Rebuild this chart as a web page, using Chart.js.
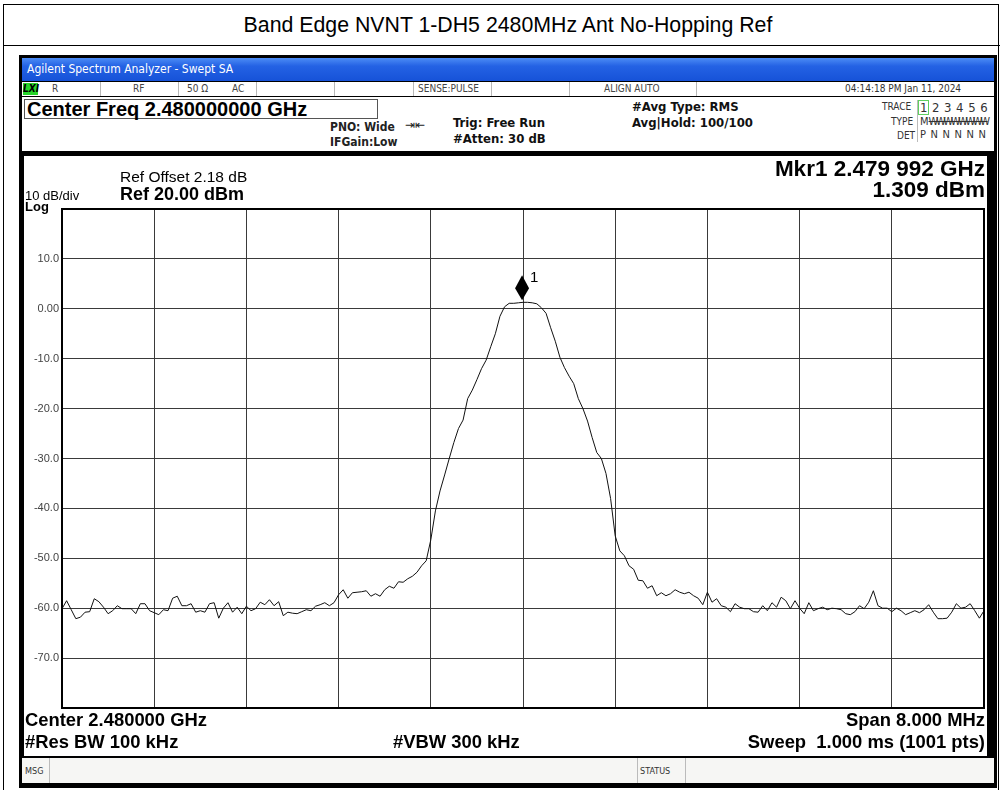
<!DOCTYPE html>
<html>
<head>
<meta charset="utf-8">
<script src="https://cdn.jsdelivr.net/npm/chart.js@4"></script>
<style>
  html, body { margin: 0; padding: 0; background: #fff; }
  body { width: 1002px; height: 790px; position: relative; overflow: hidden; font-family: "Liberation Sans", Arial, sans-serif; }
  .abs { position: absolute; white-space: nowrap; }
  .narrow { font-family: "Liberation Sans Narrow", "DejaVu Sans Condensed", "Liberation Sans", sans-serif; }
  #page { left: 3px; top: 4px; width: 996px; height: 800px; border: 1px solid #000; box-sizing: border-box; }
  #titleLine { left: 3px; top: 45px; width: 997px; height: 1px; background: #000; }
  #title { left: 0; top: 13px; width: 1016px; text-align: center; font-size: 21.3px; color: #000; }
  #sa { left: 19px; top: 55px; width: 978px; height: 733px; background: #000; }
  #bar { left: 22px; top: 58px; width: 972px; height: 23px; background: linear-gradient(#4c8cf5 0%, #2462e4 35%, #1652d8 100%); color: #fff; font-size: 12px; line-height: 23px; padding-left: 5px; box-sizing: border-box; }
  #row2 { left: 22px; top: 82px; width: 972px; height: 14px; background: #fff; font-size: 10px; color: #444; line-height: 14px; }
  .sep { position: absolute; top: 0; width: 1px; height: 14px; background: #b8b8b8; }
  #info { left: 22px; top: 97px; width: 972px; height: 54px; background: #fff; }
  #plotPanel { left: 24px; top: 156px; width: 963px; height: 600px; background: #fff; }
  #msg { left: 22px; top: 758px; width: 972px; height: 25px; background: #f6f6f4; font-size: 9px; color: #333; }
  canvas { position: absolute; left: 24px; top: 156px; }
  .bold { font-weight: bold; }
</style>
</head>
<body>
<div id="page" class="abs"></div>
<div id="titleLine" class="abs"></div>
<div id="title" class="abs">Band Edge NVNT 1-DH5 2480MHz Ant No-Hopping Ref</div>

<div id="sa" class="abs"></div>
<div id="bar" class="abs narrow">Agilent Spectrum Analyzer - Swept SA</div>
<div id="row2" class="abs narrow">
  <span class="abs" style="left:1px;top:1px;width:15px;height:12px;background:#27d42a;color:#000;font-weight:bold;font-style:italic;font-size:10px;line-height:12px;text-align:center;">LXI</span>
  <span class="abs" style="left:30px;">R</span>
  <div class="sep" style="left:78px"></div>
  <span class="abs" style="left:111px;">RF</span>
  <div class="sep" style="left:156px"></div>
  <span class="abs" style="left:165px;">50 Ω</span>
  <span class="abs" style="left:210px;">AC</span>
  <div class="sep" style="left:234px"></div>
  <div class="sep" style="left:312px"></div>
  <div class="sep" style="left:391px"></div>
  <span class="abs" style="left:396px;">SENSE:PULSE</span>
  <div class="sep" style="left:469px"></div>
  <div class="sep" style="left:547px"></div>
  <span class="abs" style="left:582px;">ALIGN AUTO</span>
  <div class="sep" style="left:674px"></div>
  <span class="abs" style="left:823px;color:#333;">04:14:18 PM Jan 11, 2024</span>
</div>
<div id="info" class="abs">
  <div class="abs bold" style="left:2px;top:2px;width:354px;height:20px;border:1px solid #555;box-sizing:border-box;font-size:20px;line-height:19px;padding-left:2px;">Center Freq 2.480000000 GHz</div>
  <span class="abs narrow" style="left:308px;top:23px;font-size:12px;font-weight:bold;color:#222;">PNO: Wide</span>
  <span class="abs" style="left:383px;top:21px;font-size:12px;color:#222;">⇥⇤</span>
  <span class="abs narrow" style="left:308px;top:38px;font-size:12px;font-weight:bold;color:#222;">IFGain:Low</span>
  <span class="abs narrow" style="left:431px;top:18px;font-size:13px;font-weight:bold;color:#111;">Trig: Free Run</span>
  <span class="abs narrow" style="left:431px;top:34px;font-size:13px;font-weight:bold;color:#111;">#Atten: 30 dB</span>
  <span class="abs narrow" style="left:610px;top:2px;font-size:13px;font-weight:bold;color:#111;">#Avg Type: RMS</span>
  <span class="abs narrow" style="left:610px;top:18px;font-size:13px;font-weight:bold;color:#111;">Avg|Hold: 100/100</span>
  <span class="abs narrow" style="left:860px;top:4px;font-size:10px;color:#333;">TRACE</span>
  <span class="abs narrow" style="left:869px;top:19px;font-size:10px;color:#333;">TYPE</span>
  <span class="abs narrow" style="left:875px;top:33px;font-size:10px;color:#333;">DET</span>
  <div class="abs" style="left:895px;top:3px;width:1px;height:42px;background:#bbb;"></div>
  <div class="abs" style="left:896px;top:3px;width:11px;height:15px;border:1px solid #5fcf5f;box-sizing:border-box;"></div>
  <span class="abs narrow" style="left:898px;top:3px;font-size:13px;color:#333;letter-spacing:4.6px;">123456</span>
  <span class="abs narrow" style="left:898px;top:18px;font-size:11px;color:#333;">M<span style="letter-spacing:-2.4px;text-decoration:line-through;">WWWWWWWW</span></span>
  <span class="abs narrow" style="left:898px;top:31px;font-size:11px;color:#333;letter-spacing:4.6px;">PNNNNN</span>
</div>
<div id="plotPanel" class="abs"></div>
<div id="msg" class="abs narrow">
  <span class="abs" style="left:3px;top:8px;">MSG</span>
  <div class="abs" style="left:27px;top:0;width:1px;height:25px;background:#bbb;"></div>
  <div class="abs" style="left:615px;top:0;width:1px;height:25px;background:#bbb;"></div>
  <span class="abs" style="left:618px;top:8px;">STATUS</span>
  <div class="abs" style="left:663px;top:0;width:1px;height:25px;background:#bbb;"></div>
</div>

<canvas id="saChart" width="963" height="600"></canvas>

<div class="abs" style="left:120px;top:168px;font-size:15.5px;">Ref Offset 2.18 dB</div>
<div class="abs bold" style="left:120px;top:184px;font-size:18px;">Ref 20.00 dBm</div>
<div class="abs" style="left:25px;top:188px;font-size:13px;">10 dB/div</div>
<div class="abs bold" style="left:25px;top:199px;font-size:13px;">Log</div>
<div class="abs bold" style="right:17px;top:156px;font-size:22.5px;text-align:right;">Mkr1 2.479 992 GHz</div>
<div class="abs bold" style="right:17px;top:177px;font-size:22.5px;text-align:right;">1.309 dBm</div>
<div class="abs bold" style="left:25px;top:709px;font-size:18.4px;">Center 2.480000 GHz</div>
<div class="abs bold" style="left:25px;top:731px;font-size:18.4px;">#Res BW 100 kHz</div>
<div class="abs bold" style="left:393px;top:731px;font-size:18.4px;">#VBW 300 kHz</div>
<div class="abs bold" style="right:17px;top:709px;font-size:18.4px;text-align:right;">Span 8.000 MHz</div>
<div class="abs bold" style="right:17px;top:731px;font-size:18.4px;text-align:right;">Sweep&nbsp; 1.000 ms (1001 pts)</div>

<script>
// sweep: 2476..2484 MHz, one reading every 0.04 MHz
const FREQ_START_MHZ = 2476;
const FREQ_STEP_MHZ = 0.04;

const LEVELS_DBM = [
  -60.1, -58.5, -60.3, -62.1, -61.8, -60.8, -60.7, -58.1, -58.7, -59.8,
  -61.1, -60.5, -59.5, -60.1, -60.1, -60.1, -61.1, -59.1, -59.1, -60.5,
  -60.9, -61.3, -60.3, -60.5, -58.0, -57.6, -59.5, -59.5, -59.1, -60.8,
  -60.5, -60.8, -59.1, -58.9, -62.0, -60.0, -58.9, -60.8, -59.8, -61.1,
  -59.6, -60.5, -60.1, -58.8, -59.3, -58.3, -59.5, -58.7, -61.5, -60.8,
  -61.0, -61.1, -60.7, -60.3, -60.5, -59.6, -59.3, -58.9, -59.5, -58.9,
  -57.3, -56.3, -58.0, -56.9, -56.8, -56.7, -56.5, -57.6, -57.1, -57.6,
  -56.3, -55.6, -56.0, -54.7, -54.8, -54.1, -53.6, -52.8, -51.5, -50.5,
  -46.3, -40.5, -36.5, -33.3, -30.0, -26.8, -24.0, -22.3, -18.0, -16.3,
  -14.2, -12.0, -10.3, -7.6, -5.0, -1.5, 0.4, 1.1, 1.1, 1.2,
  1.3, 1.3, 1.2, 1.0, 0.2, -0.9, -3.8, -6.5, -9.7, -11.8,
  -13.5, -15.0, -18.0, -20.0, -22.5, -25.8, -28.8, -30.0, -33.0, -38.0,
  -45.5, -48.5, -49.5, -51.5, -52.2, -54.4, -54.5, -56.0, -55.5, -57.5,
  -56.9, -57.5, -57.1, -56.3, -56.8, -57.1, -56.8, -57.5, -58.0, -59.3,
  -56.8, -58.8, -58.1, -59.5, -59.8, -60.7, -59.1, -59.8, -60.1, -60.1,
  -60.7, -60.8, -59.5, -60.5, -58.9, -59.8, -57.8, -58.5, -60.1, -58.5,
  -60.0, -61.1, -58.9, -60.5, -60.1, -59.8, -60.3, -60.0, -60.1, -60.3,
  -61.1, -61.3, -60.7, -59.5, -60.1, -58.8, -56.5, -59.5, -60.0, -60.0,
  -60.7, -60.0, -60.5, -61.3, -60.9, -60.5, -60.9, -60.3, -59.3, -60.8,
  -62.1, -62.1, -62.0, -60.8, -59.1, -60.0, -59.8, -59.1, -60.5, -62.0,
  -60.5
];

const X_GRID_MHZ = [2476, 2476.8, 2477.6, 2478.4, 2479.2, 2480, 2480.8, 2481.6, 2482.4, 2483.2, 2484];
const Y_GRID_DBM = [-80, -70, -60, -50, -40, -30, -20, -10, 0, 10, 20];
const Y_TICK_LABELS = ['', '-70.0', '-60.0', '-50.0', '-40.0', '-30.0', '-20.0', '-10.0', '0.00', '10.0', ''];

const MARKER_MHZ = 2479.992;
const MARKER_DBM = 1.309;
const MARKER_LABEL = '1';

const tracePoints = LEVELS_DBM.map((v, i) => ({ x: FREQ_START_MHZ + i * FREQ_STEP_MHZ, y: v }));

// frame round the graticule
const frameBox = {
    id: 'frameBox',
    afterDraw(chart) {
        const a = chart.chartArea, c = chart.ctx;
        c.save();
        c.strokeStyle = '#000';
        c.lineWidth = 2;
        c.strokeRect(a.left, a.top, a.right - a.left, a.bottom - a.top);
        c.restore();
    }
};

// marker diamond + number
const markerDiamond = {
    id: 'markerDiamond',
    afterDatasetsDraw(chart) {
        const x = chart.scales.x.getPixelForValue(MARKER_MHZ);
        const y = chart.scales.y.getPixelForValue(MARKER_DBM);
        const c = chart.ctx;
        c.save();
        c.fillStyle = '#000';
        c.beginPath();
        c.moveTo(x, y - 2);
        c.lineTo(x + 7, y - 14);
        c.lineTo(x, y - 27);
        c.lineTo(x - 7, y - 14);
        c.closePath();
        c.fill();
        c.font = '15px "Liberation Sans", Arial';
        c.textBaseline = 'top';
        c.fillText(MARKER_LABEL, x + 8, y - 32);
        c.restore();
    }
};

const ctx = document.getElementById('saChart').getContext('2d');
new Chart(ctx, {
    type: 'line',
    data: {
        datasets: [{
            label: 'Trace 1',
            data: tracePoints,
            borderColor: '#111',
            borderWidth: 1,
            pointRadius: 0,
            tension: 0,
            fill: false
        }]
    },
    options: {
        responsive: false,
        animation: false,
        devicePixelRatio: 1,
        layout: { padding: { left: 2, top: 53, right: 3, bottom: 48 } },
        plugins: { legend: { display: false }, tooltip: { enabled: false } },
        scales: {
            x: {
                type: 'linear',
                min: FREQ_START_MHZ,
                max: X_GRID_MHZ[X_GRID_MHZ.length - 1],
                afterBuildTicks: s => { s.ticks = X_GRID_MHZ.map(v => ({ value: v })); },
                afterFit: s => { s.height = 0; },
                ticks: { display: false },
                grid: { color: '#3a3a3a', lineWidth: 1, drawTicks: false },
                border: { display: false }
            },
            y: {
                min: Y_GRID_DBM[0],
                max: Y_GRID_DBM[Y_GRID_DBM.length - 1],
                afterBuildTicks: s => { s.ticks = Y_GRID_DBM.map(v => ({ value: v })); },
                afterFit: s => { s.width = 36; },
                ticks: {
                    callback: (v, i) => Y_TICK_LABELS[i],
                    color: '#444',
                    font: { family: '"Liberation Sans", Arial', size: 11 },
                    padding: 3
                },
                grid: { color: '#3a3a3a', lineWidth: 1, drawTicks: false },
                border: { display: false }
            }
        }
    },
    plugins: [frameBox, markerDiamond]
});
</script>
</body>
</html>
